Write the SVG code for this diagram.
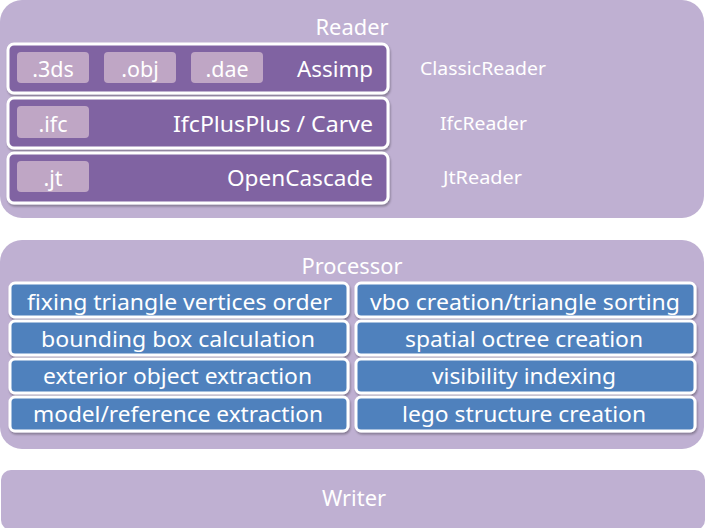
<svg xmlns="http://www.w3.org/2000/svg" width="706" height="528" viewBox="0 0 706 528">
<style>
.panel{fill:#BFB0D2}
.rbox{fill:#8064A2;stroke:#FFFFFF;stroke-width:3}
.pbox{fill:#4F81BD;stroke:#FFFFFF;stroke-width:3}
.chip{fill:#BFA6C5}
text{font-family:"Noto Sans","Open Sans","DejaVu Sans",sans-serif;fill:#FFFFFF}
.t20{font-size:21.5px}
.t17{font-size:18px}
.mid{text-anchor:middle}
.end{text-anchor:end}
.sh{filter:url(#sh)}
</style>
<defs>
<filter id="sh" x="-5%" y="-20%" width="110%" height="150%">
<feDropShadow dx="1" dy="2" stdDeviation="1.2" flood-color="#000" flood-opacity="0.3"/>
</filter>
</defs>
<g id="reader">
<rect class="panel" x="0" y="0" width="704" height="218" rx="22"/>
<text class="t20 mid" x="352" y="35" textLength="73" lengthAdjust="spacingAndGlyphs">Reader</text>
<text class="t17" x="420" y="75" textLength="126" lengthAdjust="spacingAndGlyphs">ClassicReader</text>
<text class="t17" x="440" y="130" textLength="87" lengthAdjust="spacingAndGlyphs">IfcReader</text>
<text class="t17" x="443" y="184" textLength="79" lengthAdjust="spacingAndGlyphs">JtReader</text>
</g>
<g id="assimp">
<rect class="rbox sh" x="8" y="44" width="380" height="49" rx="6"/>
<rect class="chip" x="17" y="52" width="72" height="31" rx="4"/>
<rect class="chip" x="104" y="52" width="72" height="31" rx="4"/>
<rect class="chip" x="191" y="52" width="72" height="31" rx="4"/>
<text class="t20 mid" x="53" y="77">.3ds</text>
<text class="t20 mid" x="140" y="77">.obj</text>
<text class="t20 mid" x="227" y="77">.dae</text>
<text class="t20 end" x="373" y="77" textLength="76" lengthAdjust="spacingAndGlyphs">Assimp</text>
</g>
<g id="ifcplusplus">
<rect class="rbox sh" x="8" y="98" width="380" height="50" rx="6"/>
<rect class="chip" x="17" y="106" width="72" height="32" rx="4"/>
<text class="t20 mid" x="53" y="132">.ifc</text>
<text class="t20 end" x="373" y="132" textLength="200" lengthAdjust="spacingAndGlyphs">IfcPlusPlus / Carve</text>
</g>
<g id="opencascade">
<rect class="rbox sh" x="8" y="153" width="380" height="50" rx="6"/>
<rect class="chip" x="17" y="161" width="72" height="31" rx="4"/>
<text class="t20 mid" x="53" y="186">.jt</text>
<text class="t20 end" x="373" y="186" textLength="146" lengthAdjust="spacingAndGlyphs">OpenCascade</text>
</g>
<g id="processor">
<rect class="panel" x="0" y="240" width="704" height="209" rx="22"/>
<text class="t20 mid" x="352" y="274" textLength="101" lengthAdjust="spacingAndGlyphs">Processor</text>
</g>
<g id="p1">
<rect class="pbox sh" x="10" y="283" width="338" height="34" rx="5"/>
<text class="t20" x="27" y="310" textLength="305" lengthAdjust="spacingAndGlyphs">fixing triangle vertices order</text>
</g>
<g id="p2">
<rect class="pbox sh" x="10" y="321" width="338" height="34" rx="5"/>
<text class="t20" x="41" y="347" textLength="274" lengthAdjust="spacingAndGlyphs">bounding box calculation</text>
</g>
<g id="p3">
<rect class="pbox sh" x="10" y="359" width="338" height="34" rx="5"/>
<text class="t20" x="43" y="384" textLength="269" lengthAdjust="spacingAndGlyphs">exterior object extraction</text>
</g>
<g id="p4">
<rect class="pbox sh" x="10" y="397" width="338" height="34" rx="5"/>
<text class="t20" x="33" y="422" textLength="290" lengthAdjust="spacingAndGlyphs">model/reference extraction</text>
</g>
<g id="p5">
<rect class="pbox sh" x="356" y="283" width="339" height="34" rx="5"/>
<text class="t20" x="370" y="310" textLength="310" lengthAdjust="spacingAndGlyphs">vbo creation/triangle sorting</text>
</g>
<g id="p6">
<rect class="pbox sh" x="356" y="321" width="339" height="34" rx="5"/>
<text class="t20" x="405" y="347" textLength="238" lengthAdjust="spacingAndGlyphs">spatial octree creation</text>
</g>
<g id="p7">
<rect class="pbox sh" x="356" y="359" width="339" height="34" rx="5"/>
<text class="t20" x="432" y="384" textLength="184" lengthAdjust="spacingAndGlyphs">visibility indexing</text>
</g>
<g id="p8">
<rect class="pbox sh" x="356" y="397" width="339" height="34" rx="5"/>
<text class="t20" x="402" y="422" textLength="244" lengthAdjust="spacingAndGlyphs">lego structure creation</text>
</g>
<g id="writer">
<rect class="panel" x="1" y="470" width="704" height="60" rx="10"/>
<text class="t20 mid" x="354" y="506" textLength="64" lengthAdjust="spacingAndGlyphs">Writer</text>
</g>
<g id="connectors"></g>
</svg>
